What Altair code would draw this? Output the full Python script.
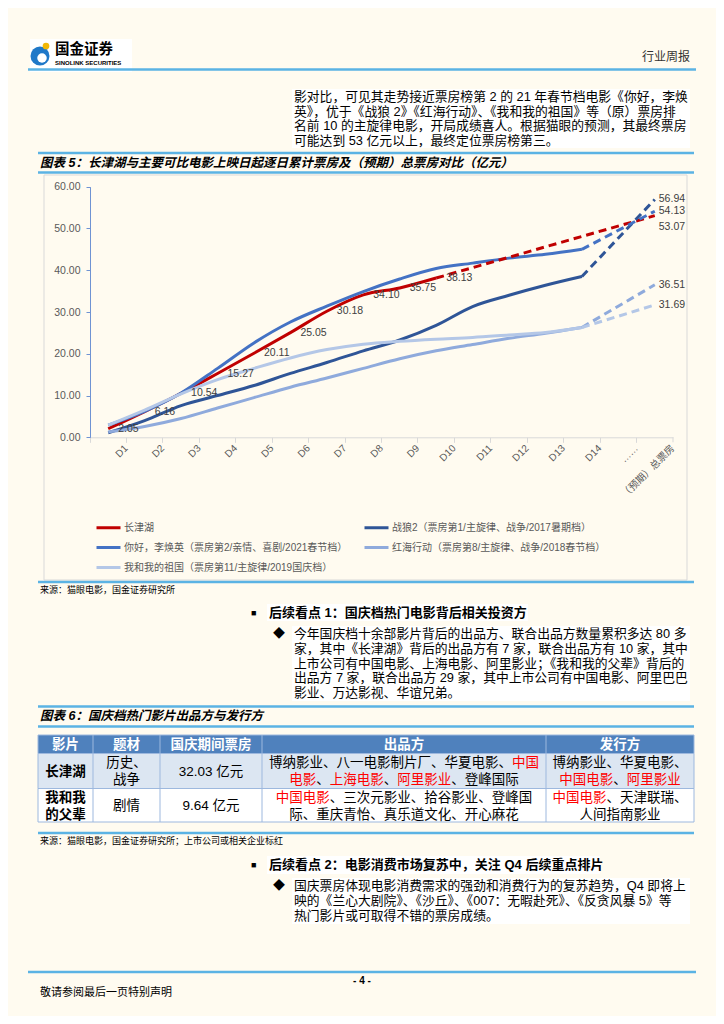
import altair as alt
import pandas as pd

OFF = 8
W, H = 708, 1008
BG = "#FFFBF0"
SANS = "Liberation Sans, Noto Sans CJK SC, sans-serif"
CJK = SANS
LINE_BLUE = "#5BB3E4"

# ---------------- chart data ----------------
days = ["D1", "D2", "D3", "D4", "D5", "D6", "D7", "D8", "D9", "D10",
        "D11", "D12", "D13", "D14", "……", "（预期）总票房"]
series_names = ["长津湖",
                "战狼2（票房第1/主旋律、战争/2017暑期档）",
                "你好，李焕英（票房第2/亲情、喜剧/2021春节档）",
                "红海行动（票房第8/主旋律、战争/2018春节档）",
                "我和我的祖国（票房第11/主旋律/2019国庆档）"]
series_colors = ["#C00000", "#2F5597", "#4472C4", "#8FAADC", "#B4C7E7"]
changjinhu = [2.05, 6.16, 10.54, 15.27, 20.11, 25.05, 30.18, 34.10, 35.75, 38.13]
zhanlang2 = [1.1, 4.0, 7.6, 10.0, 12.4, 15.3, 17.9, 20.7, 23.3, 26.8, 31.3, 34.0, 36.4, 38.5]
nihao = [2.9, 6.2, 10.6, 16.5, 22.6, 27.6, 31.4, 34.9, 37.9, 40.4, 41.7, 42.9, 43.8, 45.0]
honghai = [1.3, 2.6, 4.5, 7.0, 9.5, 12.0, 14.2, 16.5, 18.8, 20.7, 22.2, 23.7, 24.9, 26.3]
wohe = [2.9, 6.5, 10.4, 13.8, 16.5, 19.0, 21.0, 22.3, 23.0, 23.5, 23.9, 24.5, 25.1, 26.3]
totals = [53.07, 56.94, 54.13, 36.51, 31.69]
y_ticks = [0, 10, 20, 30, 40, 50, 60]

# ---------------- page texts ----------------
header_right = "行业周报"
logo_cn = "国金证券"
logo_en = "SINOLINK SECURITIES"
para1 = ["影对比，可见其走势接近票房榜第 2 的 21 年春节档电影《你好，李焕",
         "英》，优于《战狼 2》《红海行动》、《我和我的祖国》等（原）票房排",
         "名前 10 的主旋律电影，开局成绩喜人。根据猫眼的预测，其最终票房",
         "可能达到 53 亿元以上，最终定位票房榜第三。"]
fig5_title = "图表 5：长津湖与主要可比电影上映日起逐日累计票房及（预期）总票房对比（亿元）"
fig5_source = "来源：猫眼电影，国金证券研究所"
b1_head = "后续看点 1：国庆档热门电影背后相关投资方"
b1_lines = ["今年国庆档十余部影片背后的出品方、联合出品方数量累积多达 80 多",
            "家，其中《长津湖》背后的出品方有 7 家，联合出品方有 10 家，其中",
            "上市公司有中国电影、上海电影、阿里影业；《我和我的父辈》背后的",
            "出品方 7 家，联合出品方 29 家，其中上市公司有中国电影、阿里巴巴",
            "影业、万达影视、华谊兄弟。"]
fig6_title = "图表 6：国庆档热门影片出品方与发行方"
table_header = ["影片", "题材", "国庆期间票房", "出品方", "发行方"]
row1_film = ["长津湖"]
row1_genre = ["历史、", "战争"]
row1_box = "32.03 亿元"
row1_prod = [[("博纳影业、八一电影制片厂、华夏电影、", 0), ("中国", 1)],
             [("电影", 1), ("、", 0), ("上海电影", 1), ("、", 0), ("阿里影业", 1), ("、登峰国际", 0)]]
row1_dist = [[("博纳影业、华夏电影、", 0)],
             [("中国电影", 1), ("、", 0), ("阿里影业", 1)]]
row2_film = ["我和我", "的父辈"]
row2_genre = ["剧情"]
row2_box = "9.64 亿元"
row2_prod = [[("中国电影", 1), ("、三次元影业、拾谷影业、登峰国", 0)],
             [("际、重庆青怡、真乐道文化、开心麻花", 0)]]
row2_dist = [[("中国电影", 1), ("、天津联瑞、", 0)],
             [("人间指南影业", 0)]]
fig6_source = "来源：猫眼电影，国金证券研究所；上市公司或相关企业标红"
b2_head = "后续看点 2：电影消费市场复苏中，关注 Q4 后续重点排片"
b2_lines = ["国庆票房体现电影消费需求的强劲和消费行为的复苏趋势，Q4 即将上",
            "映的《兰心大剧院》、《沙丘》、《007：无暇赴死》、《反贪风暴 5》等",
            "热门影片或可取得不错的票房成绩。"]
footer_page = "- 4 -"
footer_note = "敬请参阅最后一页特别声明"

# ---------------- tables for the chart ----------------
all_vals = [changjinhu, zhanlang2, nihao, honghai, wohe]
solid = pd.DataFrame([{"series": n, "day": d, "value": v}
                      for n, vals in zip(series_names, all_vals)
                      for d, v in zip(days, vals)])
dash_rows = []
for n, vals, t in zip(series_names, all_vals, totals):
    dash_rows.append({"series": n, "day": days[len(vals) - 1], "value": vals[-1]})
    dash_rows.append({"series": n, "day": days[-1], "value": t})
dashed = pd.DataFrame(dash_rows)
cjh_labels = pd.DataFrame({"day": days[:len(changjinhu)], "value": changjinhu})
end_main = pd.DataFrame({"day": [days[-1]] * 4, "value": totals[1:]})
end_cjh = pd.DataFrame({"day": [days[-1]], "value": totals[:1]})

# ---------------- scales / axes ----------------
x_axis = alt.Axis(title=None, offset=-578.7, bandPosition=0, labelOffset=18.2,
                  labelAngle=-45, labelAlign="right", labelBaseline="middle",
                  labelFontSize=10, labelColor="#595959", labelFont=CJK,
                  domainColor="#D9D9D9", tickColor="#D9D9D9", tickSize=5,
                  labelPadding=4, grid=False, labelOverlap=False)
y_axis = alt.Axis(title=None, offset=-82, values=y_ticks, format=".2f",
                  labelFontSize=10.5, labelColor="#595959", labelFont=SANS,
                  domainColor="#6F93D3", tickColor="#6F93D3", tickSize=4,
                  labelPadding=6, grid=False)
x_scale = alt.Scale(type="band", domain=days, range=[82, 665], paddingInner=0, paddingOuter=0)
y_scale = alt.Scale(domain=[0, 60], range=[429.3, 178.7], nice=False)


def X():
    return alt.X("day:N", sort=days, scale=x_scale, axis=x_axis)


def Y():
    return alt.Y("value:Q", scale=y_scale, axis=y_axis)


legend = alt.Legend(title=None, orient="none", legendX=87, legendY=506, columns=2,
                    direction="horizontal",
                    symbolType="stroke", symbolStrokeWidth=3, symbolSize=576,
                    labelFontSize=10, labelFont=CJK, labelColor="#595959",
                    labelLimit=600, columnPadding=10, rowPadding=0, labelOffset=2,
                    padding=0)

solid_layer = alt.Chart(solid).mark_line(interpolate="monotone", strokeWidth=3).encode(
    x=X(), y=Y(),
    color=alt.Color("series:N", sort=series_names,
                    scale=alt.Scale(domain=series_names, range=series_colors), legend=legend))
dash_layer = alt.Chart(dashed).mark_line(strokeWidth=3, strokeDash=[8, 5]).encode(
    x=X(), y=Y(),
    color=alt.Color("series:N", sort=series_names,
                    scale=alt.Scale(domain=series_names, range=series_colors), legend=None))
lab_style = dict(align="left", baseline="middle", fontSize=10.5, color="#404040", font=SANS)
cjh_lab = alt.Chart(cjh_labels).mark_text(dx=10, **lab_style).encode(
    x=X(), y=Y(), text=alt.Text("value:Q", format=".2f"))
end_lab = alt.Chart(end_main).mark_text(dx=4, **lab_style).encode(
    x=X(), y=Y(), text=alt.Text("value:Q", format=".2f"))
end_lab2 = alt.Chart(end_cjh).mark_text(dx=4, dy=11, **lab_style).encode(
    x=X(), y=Y(), text=alt.Text("value:Q", format=".2f"))

# ---------------- decoration helpers ----------------
ONE = pd.DataFrame({"k": [0]})


def T(s, x, y, size=13, color="#000000", weight="normal", align="left", style="normal", font=CJK):
    return alt.Chart(ONE).mark_text(text=s, font=font, fontSize=size, color=color,
                                    fontWeight=weight, fontStyle=style, align=align,
                                    baseline="middle").encode(
        x=alt.value(x - OFF), y=alt.value(y - OFF))


def R(x1, y1, x2, y2, fill=None, stroke=None, sw=1):
    kw = {}
    if fill is not None:
        kw["fill"] = fill
    else:
        kw["fillOpacity"] = 0
    if stroke is not None:
        kw["stroke"] = stroke
        kw["strokeWidth"] = sw
    return alt.Chart(ONE).mark_rect(**kw).encode(
        x=alt.value(x1 - OFF), x2=alt.value(x2 - OFF),
        y=alt.value(y1 - OFF), y2=alt.value(y2 - OFF))


def HL(x1, x2, y, color=LINE_BLUE, sw=2.5):
    return alt.Chart(ONE).mark_rule(color=color, strokeWidth=sw).encode(
        x=alt.value(x1 - OFF), x2=alt.value(x2 - OFF), y=alt.value(y - OFF))


def VL(x, y1, y2, color, sw=1):
    return alt.Chart(ONE).mark_rule(color=color, strokeWidth=sw).encode(
        x=alt.value(x - OFF), y=alt.value(y1 - OFF), y2=alt.value(y2 - OFF))


def DOT(x, y, size, color):
    return alt.Chart(ONE).mark_point(filled=True, shape="circle", size=size, color=color,
                                     opacity=1).encode(x=alt.value(x - OFF), y=alt.value(y - OFF))


layers = []
# header
layers += [R(30, 39, 132, 72, fill="#FFFFFF"),
           DOT(40, 56, 360, "#1F78C8"), DOT(42, 58, 90, "#FFFFFF"), DOT(46, 46, 45, "#F2B705"),
           T(logo_cn, 55, 50, size=14.5, weight="bold"),
           T(logo_en, 55, 63, size=6, weight="bold", font=SANS),
           T(header_right, 690, 57, size=12, color="#333333", align="right"),
           HL(28, 696, 69.5)]
# paragraph 1
layers.append(R(292, 89, 690, 148, fill="#FFFFFF"))
for i, s in enumerate(para1):
    layers.append(T(s, 294, 97 + 14.5 * i, size=12.8))
# figure 5 title
layers += [HL(38, 694, 153), T(fig5_title, 40, 162.5, size=12.5, weight="bold", style="italic"),
           HL(38, 694, 172.5)]
# chart frame
layers.append(R(44, 175, 687, 580, stroke="#D9D9D9"))
layers += [solid_layer, dash_layer, cjh_lab, end_lab, end_lab2,
           VL(673, 437.3, 442.3, "#D9D9D9")]
# source
layers += [HL(38, 694, 582), T(fig5_source, 40, 589.5, size=9)]
# bullet 1
layers += [R(267, 604, 528, 621, fill="#FFFFFF"), R(292, 626, 690, 701, fill="#FFFFFF"),
           T("■", 251, 612.5, size=9), T(b1_head, 269, 612.5, size=13, weight="bold"),
           T("◆", 273, 634, size=12)]
for i, s in enumerate(b1_lines):
    layers.append(T(s, 294, 634 + 14.8 * i, size=12.8))
# figure 6 title
layers += [HL(38, 694, 706.5), T(fig6_title, 40, 716, size=12.5, weight="bold", style="italic"),
           HL(38, 694, 726.5)]
# table
edges = [38, 93, 160, 262, 546, 694]
centers = [(a + b) / 2 for a, b in zip(edges[:-1], edges[1:])]
HT, HB, R1B, R2B = 735, 753.5, 788.5, 822
FS = 13.5
layers += [R(38, HT, 694, HB, fill="#4F81BD", stroke="#9DB8DE"),
           R(38, HB, 694, R1B, fill="#DCE6F2", stroke="#9DB8DE"),
           R(38, R1B, 694, R2B, fill="#FFFFFF", stroke="#9DB8DE")]
for e in edges[1:-1]:
    layers.append(VL(e, HT, HB, "#9DB8DE"))
    layers.append(VL(e, HB, R2B, "#9DB8DE"))
for c, s in zip(centers, table_header):
    layers.append(T(s, c, 744.5, size=FS, color="#FFFFFF", weight="bold", align="center"))


def cell_lines(lines, c, ys, bold=False):
    out = []
    for s, y in zip(lines, ys):
        out.append(T(s, c, y, size=FS, weight="bold" if bold else "normal", align="center"))
    return out


def rich_lines(lines, c, ys):
    out = []
    for segs, y in zip(lines, ys):
        n = sum(len(s) for s, _ in segs)
        x0 = c - n * FS / 2
        k = 0
        for s, red in segs:
            out.append(T(s, x0 + k * FS, y, size=FS, color="#FF0000" if red else "#000000"))
            k += len(s)
    return out


r1y = [763, 780]
r2y = [797.5, 815]
layers += cell_lines(row1_film, centers[0], [771.5], bold=True)
layers += cell_lines(row1_genre, centers[1], r1y)
layers += cell_lines([row1_box], centers[2], [771.5])
layers += rich_lines(row1_prod, centers[3], r1y)
layers += rich_lines(row1_dist, centers[4], r1y)
layers += cell_lines(row2_film, centers[0], r2y, bold=True)
layers += cell_lines(row2_genre, centers[1], [806])
layers += cell_lines([row2_box], centers[2], [806])
layers += rich_lines(row2_prod, centers[3], r2y)
layers += rich_lines(row2_dist, centers[4], r2y)
# source 2
layers += [HL(38, 694, 833), T(fig6_source, 40, 840.5, size=9)]
# bullet 2
layers += [R(267, 856, 600, 874, fill="#FFFFFF"), R(292, 878, 690, 924, fill="#FFFFFF"),
           T("■", 251, 865, size=9), T(b2_head, 269, 865, size=13, weight="bold"),
           T("◆", 273, 886, size=12)]
for i, s in enumerate(b2_lines):
    layers.append(T(s, 294, 886 + 15 * i, size=12.8))
# footer
layers += [HL(28, 696, 972), T(footer_page, 362, 981, size=10, weight="bold", align="center", font=SANS),
           T(footer_note, 40, 993, size=11)]

chart = alt.layer(*layers).resolve_scale(color="independent").properties(
    width=W, height=H, autosize=alt.AutoSizeParams(type="none"), padding=0, background=BG
).configure_view(stroke=None)

chart.save("out.html", embed_options={"renderer": "svg", "actions": False})
